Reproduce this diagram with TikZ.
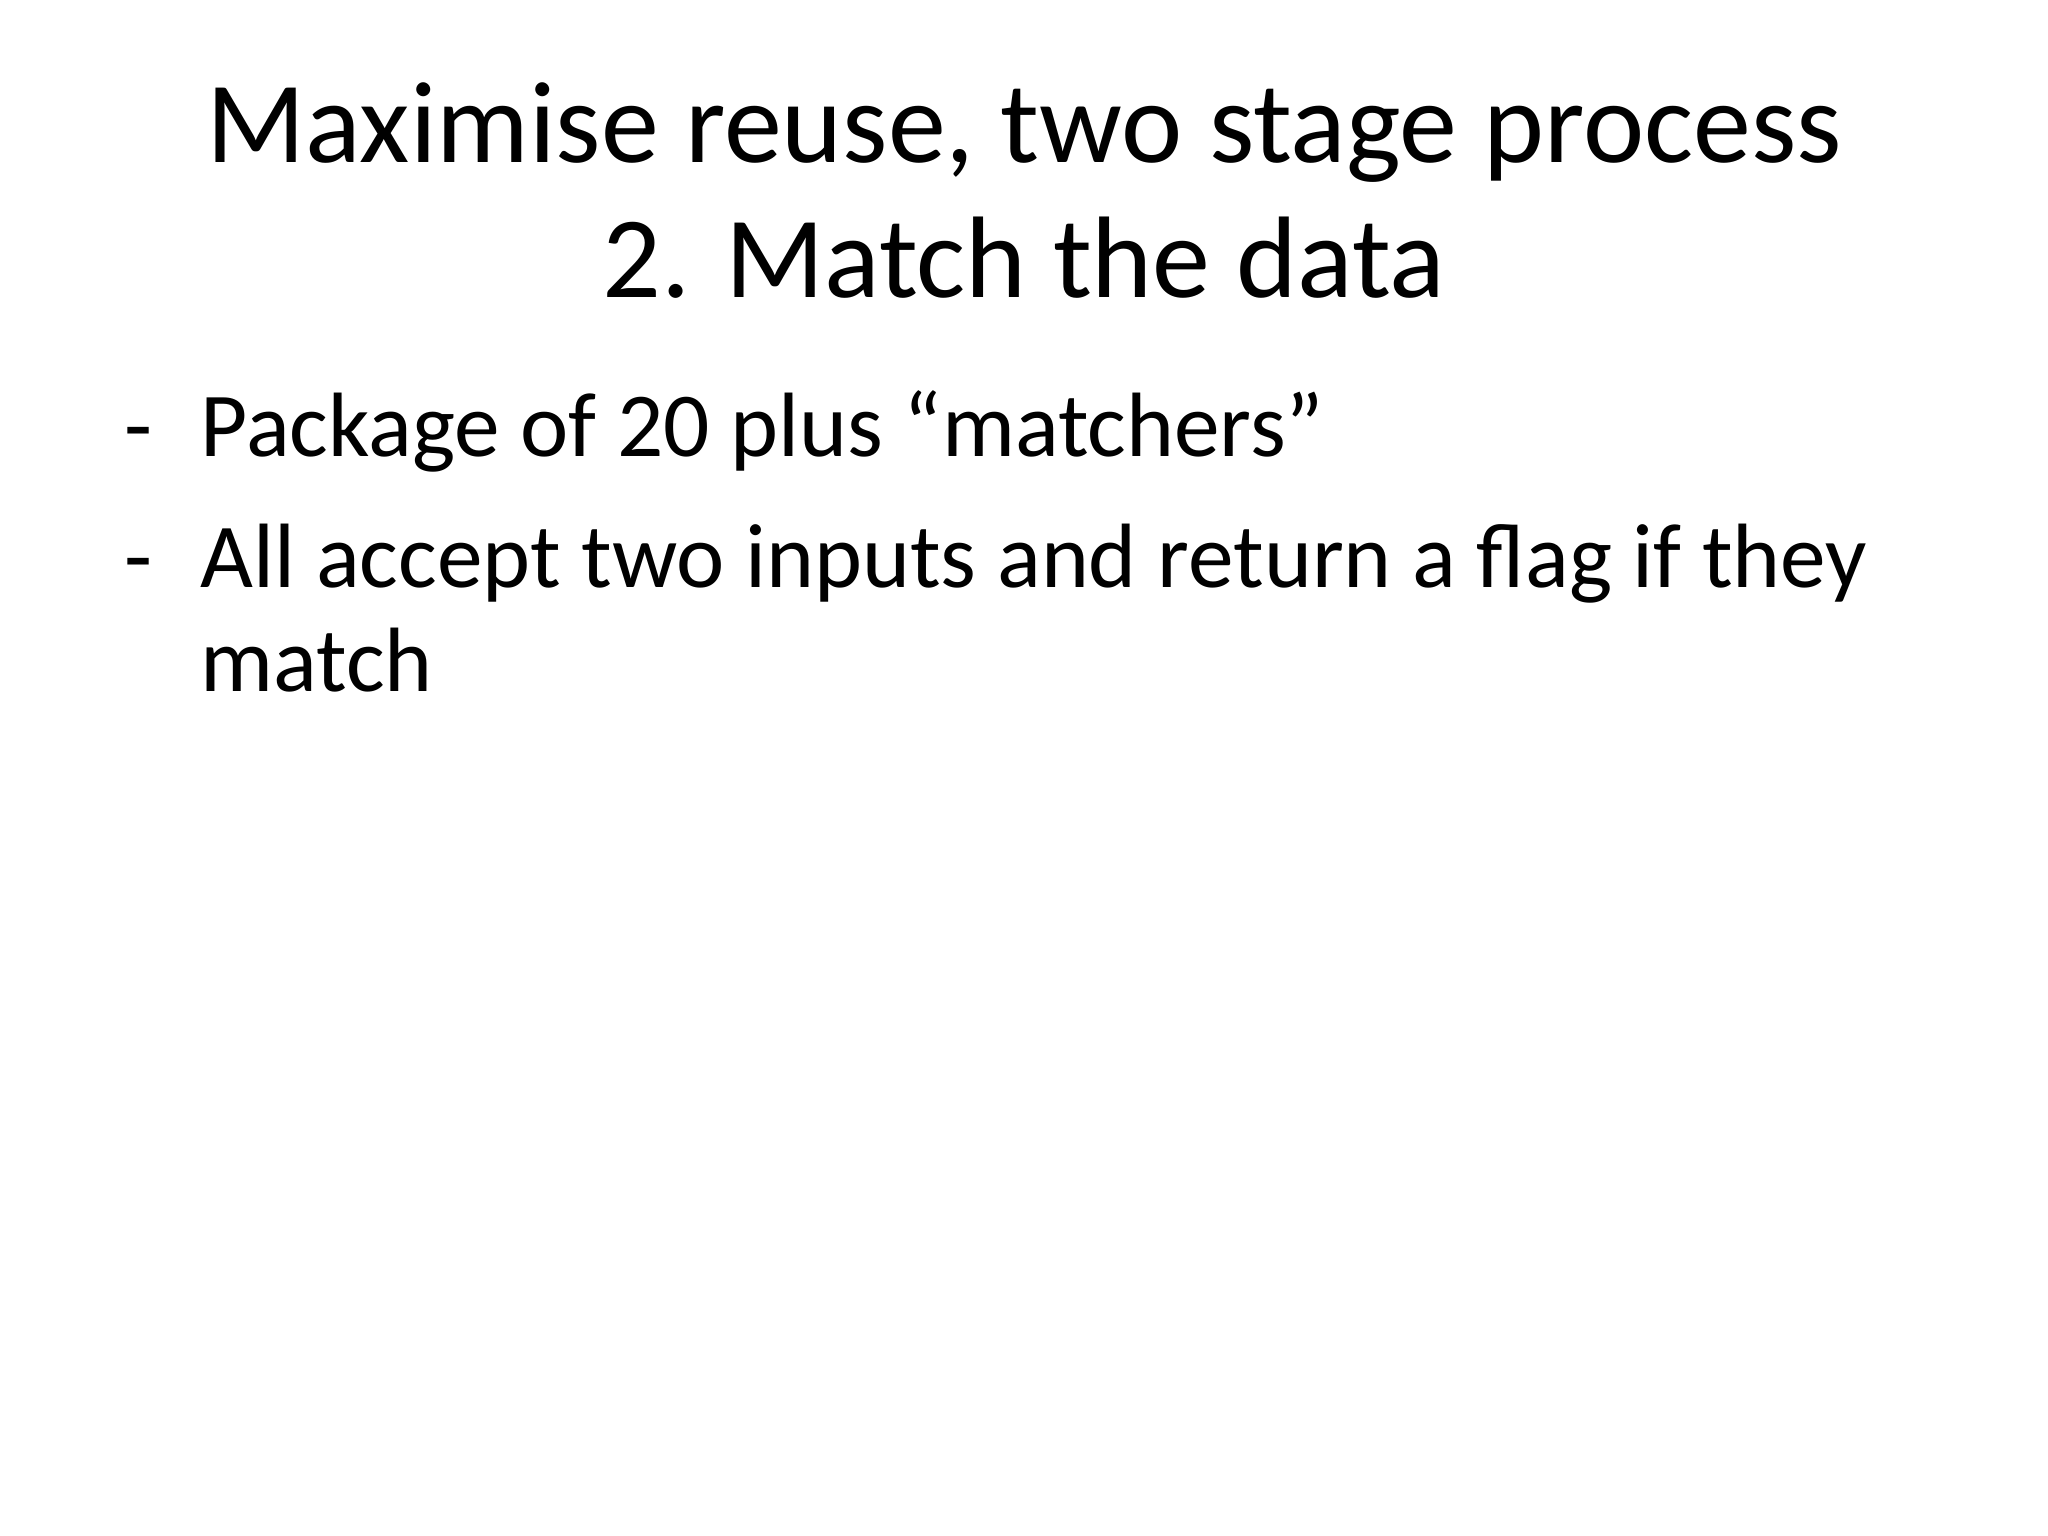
\documentclass[tikz,border=0pt]{standalone}
\usepackage{fontspec}
\setmainfont{Carlito}
\begin{document}
\begin{tikzpicture}[x=1cm,y=1cm,
  ttl/.style={anchor=base,inner sep=0pt,font=\fontsize{33}{40}\selectfont},
  body/.style={anchor=base west,inner sep=0pt,font=\fontsize{26}{31}\selectfont}]
\useasboundingbox (0,0) rectangle (20.48,15.36);
\node[ttl] (t1) at (10.24,13.73) {Maximise reuse, two stage process};
\node[ttl] (t2) at (10.24,12.38) {2. Match the data};
\node[body] (d1) at (1.24,10.79) {-};
\node[body] (b1) at (2.0,10.79) {Package of 20 plus “matchers”};
\node[body] (d2) at (1.24,9.48) {-};
\node[body] (b2) at (2.0,9.48) {All accept two inputs and return a flag if they};
\node[body] (b3) at (2.0,8.44) {match};
\end{tikzpicture}
\end{document}
